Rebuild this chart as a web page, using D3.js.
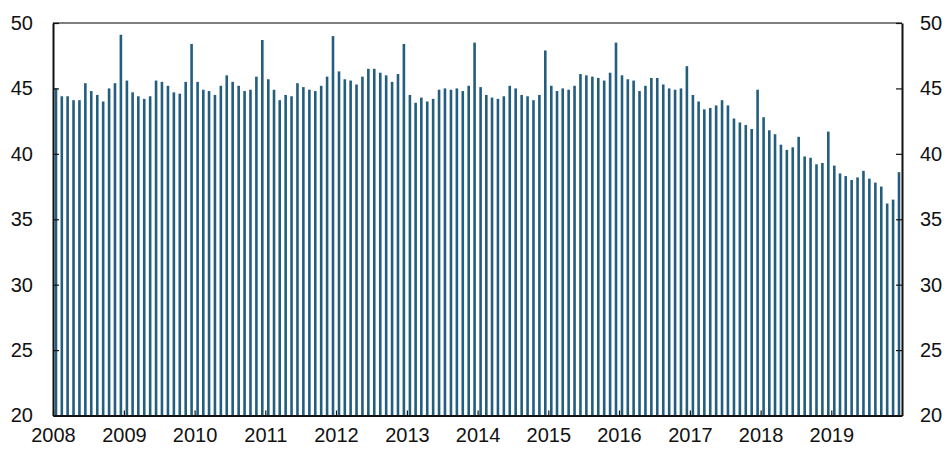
<!DOCTYPE html>
<html>
<head>
<meta charset="utf-8">
<script src="https://cdn.jsdelivr.net/npm/d3@7"></script>
<style>
  body { margin: 0; background: #fff; }
  text { font-family: "Liberation Sans", Arial, sans-serif; }
</style>
</head>
<body>
<svg id="chart" width="944" height="450"></svg>
<script>
// monthly values, Jan 2008 - Dec 2019
let values = [
  45.0, 44.4, 44.4, 44.1, 44.1, 45.4, 44.8, 44.5, 44.0, 45.0, 45.4, 49.1,
  45.6, 44.7, 44.4, 44.2, 44.4, 45.6, 45.5, 45.2, 44.7, 44.6, 45.5, 48.4,
  45.5, 44.9, 44.8, 44.5, 45.2, 46.0, 45.5, 45.2, 44.8, 44.9, 45.9, 48.7,
  45.7, 44.9, 44.1, 44.5, 44.4, 45.4, 45.1, 44.9, 44.8, 45.2, 45.9, 49.0,
  46.3, 45.7, 45.6, 45.3, 45.9, 46.5, 46.5, 46.2, 46.0, 45.5, 46.1, 48.4,
  44.5, 43.9, 44.3, 44.0, 44.2, 44.9, 45.0, 44.9, 45.0, 44.8, 45.2, 48.5,
  45.1, 44.5, 44.3, 44.2, 44.4, 45.2, 45.0, 44.5, 44.4, 44.1, 44.5, 47.9,
  45.2, 44.8, 45.0, 44.9, 45.2, 46.1, 46.0, 45.9, 45.8, 45.6, 46.2, 48.5,
  46.0, 45.7, 45.6, 44.8, 45.2, 45.8, 45.8, 45.3, 45.0, 44.9, 45.0, 46.7,
  44.5, 44.0, 43.4, 43.5, 43.7, 44.1, 43.7, 42.7, 42.4, 42.2, 41.9, 44.9,
  42.8, 41.8, 41.5, 40.7, 40.3, 40.5, 41.3, 39.8, 39.7, 39.2, 39.3, 41.7,
  39.1, 38.5, 38.3, 38.0, 38.2, 38.7, 38.1, 37.8, 37.5, 36.2, 36.5, 38.6
];
let yTicks = [20, 25, 30, 35, 40, 45, 50];
let years = d3.range(2008, 2020);

let months = values.map((v, i) => ({date: new Date(2008, i, 1), v: v}));

let mLeft = 53, mRight = 902, mTop = 23, mBottom = 415.5;

let svg = d3.select("#chart");

let x = d3.scaleTime()
    .domain([new Date(2008, 0, 1), new Date(2020, 0, 1)])
    .range([mLeft, mRight]);

let y = d3.scaleLinear()
    .domain([20, 50])
    .range([mBottom, mTop]);

let barW = 2.6;

svg.append("g")
    .selectAll("rect")
    .data(months)
    .enter()
    .append("rect")
        .attr("x", d => {
            let next = d3.timeMonth.offset(d.date, 1);
            return (x(d.date) + x(next)) / 2 - barW / 2;
        })
        .attr("y", d => y(d.v))
        .attr("width", barW)
        .attr("height", d => y(20) - y(d.v))
        .attr("fill", "#245e7f");

// top frame line
svg.append("line")
    .attr("x1", mLeft)
    .attr("x2", mRight)
    .attr("y1", mTop)
    .attr("y2", mTop)
    .attr("stroke", "#555")
    .attr("stroke-width", 1.5);

let yLeft = svg.append("g")
    .attr("transform", `translate(${mLeft},0)`)
    .call(d3.axisLeft(y).tickValues(yTicks).tickSizeInner(-6).tickSizeOuter(0).tickPadding(20));

let yRight = svg.append("g")
    .attr("transform", `translate(${mRight},0)`)
    .call(d3.axisRight(y).tickValues(yTicks).tickSizeInner(-6).tickSizeOuter(0).tickPadding(18));

let xAxis = svg.append("g")
    .attr("transform", `translate(0,${mBottom})`)
    .call(d3.axisBottom(x)
        .tickValues(years.map(yr => new Date(yr, 0, 1)))
        .tickFormat(d3.timeFormat("%Y"))
        .tickSizeInner(-5)
        .tickSizeOuter(0)
        .tickPadding(12));

[yLeft, yRight, xAxis].forEach(g => {
    g.select(".domain").attr("stroke", "#111").attr("stroke-width", 2);
    g.selectAll(".tick line").attr("stroke", "#111").attr("stroke-width", 1.2);
    g.selectAll("text")
        .attr("font-size", 20)
        .attr("font-family", "Liberation Sans, Arial, sans-serif")
        .attr("fill", "#111");
});
</script>
</body>
</html>
